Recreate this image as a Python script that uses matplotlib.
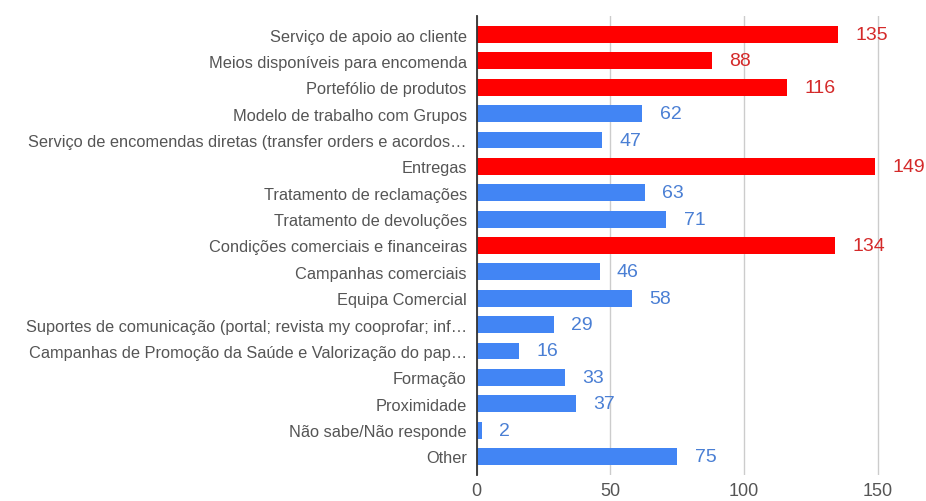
import matplotlib.pyplot as plt
import numpy as np

# Categorias e respostas
categorias = [
    "Serviço de apoio ao cliente",
    "Meios disponíveis para encomenda",
    "Portefólio de produtos",
    "Modelo de trabalho com Grupos",
    "Serviço de encomendas diretas (transfer orders e acordos…",
    "Entregas",
    "Tratamento de reclamações",
    "Tratamento de devoluções",
    "Condições comerciais e financeiras",
    "Campanhas comerciais",
    "Equipa Comercial",
    "Suportes de comunicação (portal; revista my cooprofar; inf…",
    "Campanhas de Promoção da Saúde e Valorização do pap…",
    "Formação",
    "Proximidade",
    "Não sabe/Não responde",
    "Other",
]
valores = [135, 88, 116, 62, 47, 149, 63, 71, 134, 46, 58, 29, 16, 33, 37, 2, 75]

# categorias destacadas a vermelho
destaque = ["Serviço de apoio ao cliente", "Meios disponíveis para encomenda",
            "Portefólio de produtos", "Entregas", "Condições comerciais e financeiras"]

xticks = [0, 50, 100, 150]

plt.rcParams['font.family'] = ['Liberation Sans', 'DejaVu Sans']

fig = plt.figure(figsize=(9.26, 5.02), dpi=100)
ax = fig.add_axes([0.5146, 0.052, 0.4854, 0.914])

y = np.arange(len(categorias))
cores = ["#ff0000" if c in destaque else "#4285f4" for c in categorias]
cores_txt = ["#d42a2a" if c in destaque else "#4a7fd4" for c in categorias]

ax.barh(y, valores, height=0.64, color=cores, zorder=3)

for yi, v, ct in zip(y, valores, cores_txt):
    ax.annotate(str(v), (v, yi), xytext=(12.5, 0), textcoords="offset points",
                va="center", ha="left", fontsize=14, color=ct, zorder=4)

ax.set_yticks(y)
ax.set_yticklabels(categorias, fontsize=11.8, color="#555555")
ax.set_ylim(len(categorias) - 0.5 + 0.2, -0.5 - 0.2)
ax.set_xlim(0, 168)
ax.set_xticks(xticks)
ax.set_xticklabels([str(t) for t in xticks], fontsize=13, color="#555555")
ax.tick_params(axis="both", length=0)
ax.tick_params(axis="y", pad=7)
ax.tick_params(axis="x", pad=5)

ax.grid(axis="x", color="#cccccc", linewidth=1, zorder=0)
for s in ["top", "right", "bottom"]:
    ax.spines[s].set_visible(False)
ax.spines["left"].set_color("#333333")
ax.spines["left"].set_linewidth(1.3)
ax.spines["left"].set_zorder(5)

fig.savefig("out.png", dpi=100)
